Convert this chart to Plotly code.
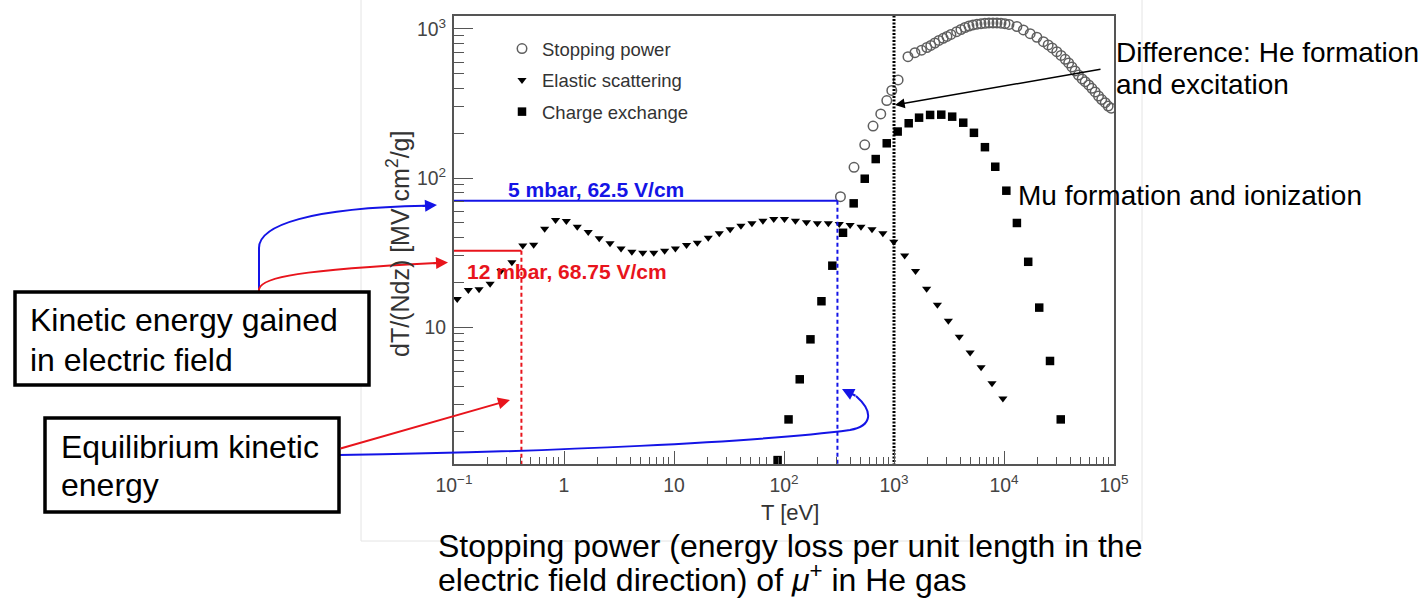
import plotly.graph_objects as go

# ---- data: energy-loss components of mu+ in He gas --------------------------
# Elastic scattering (triangles)
elastic_T = [0.107, 0.135, 0.169, 0.213, 0.267, 0.336, 0.422, 0.530, 0.667, 0.838,
             1.05, 1.32, 1.66, 2.09, 2.62, 3.30, 4.14, 5.20, 6.55, 8.22,
             10.3, 13.0, 16.3, 20.5, 25.8, 32.4, 40.6, 51.1, 64.3, 80.7,
             101, 127, 160, 201, 253, 318, 399, 501, 631, 792,
             995, 1250, 1570, 1980, 2480, 3120, 3920, 4920, 6190, 7780, 9770]
elastic_V = [15.4, 17.7, 17.9, 19.5, 23.8, 27.2, 35.3, 35.6, 45.7, 52.2,
             51.4, 47.1, 43.4, 39.4, 36.5, 33.7, 32.0, 31.5, 31.5, 32.5,
             33.7, 35.5, 36.8, 39.7, 42.6, 45.3, 47.9, 49.7, 51.7, 53.1,
             53.1, 51.7, 50.4, 49.7, 49.7, 49.1, 48.4, 47.1, 45.3, 42.6,
             37.4, 30.2, 23.8, 18.1, 14.1, 11.0, 8.61, 6.76, 5.37, 4.19, 3.32]

# Charge exchange (squares)
charge_T = [87.5, 110, 139, 174, 219, 275, 344, 430, 542, 682, 859, 1080, 1360, 1690,
            2130, 2690, 3380, 4260, 5330, 6710, 8330, 10500, 13100, 16600, 20900,
            26200, 32800]
charge_V = [1.28, 2.40, 4.46, 8.27, 14.9, 25.8, 42.9, 67.6, 98.9, 134, 171, 205, 233, 254,
            265, 266, 258, 235, 201, 161, 119, 82.2, 49.9, 27.4, 13.5, 5.92, 2.40]

# Total stopping power (open circles)
stop_T = [326, 433, 542, 645, 758, 860, 955, 1090,
          1340, 1550, 1780, 1990, 2160, 2350, 2560, 2800, 3030, 3290,
          3710, 4060, 4420, 4800, 5220, 5680, 6180, 6710, 7300, 7940,
          8630, 9390, 10200, 11100, 13100, 15000, 17300, 19900, 22800, 25200,
          27400, 30200, 33000, 36000, 38700, 41400, 44300, 47500, 51300, 54700,
          58900, 62900, 67400, 72300, 77300, 83200, 88500, 94200]
stop_V = [74.9, 118, 167, 223, 269, 331, 387, 455,
          652, 693, 721, 751, 775, 805, 837, 866, 891, 919,
          959, 992, 1023, 1047, 1064, 1077, 1085, 1092, 1097, 1097,
          1097, 1094, 1085, 1072, 1039, 985, 929, 880, 822, 782,
          746, 704, 664, 626, 592, 556, 523, 491, 462, 443,
          421, 400, 378, 355, 336, 320, 304, 294]

# Operating points: (equilibrium T [eV], energy gained [MV cm2/g])
blue_T, blue_V = 306, 70.4      # 5 mbar, 62.5 V/cm
red_T, red_V = 0.41, 32.5       # 12 mbar, 68.75 V/cm
threshold_T = 1000

X_RANGE = [-1, 5]
Y_RANGE = [0.081, 3.087]
T_MIN, V_MIN, V_MAX = 0.1, 1.0, 3000

# ---- page geometry (pixels) -------------------------------------------------
W, H = 1428, 599
L, R, TOP, B = 454, 1114, 16, 464


def px(x):
    return (x - L) / (R - L)


def py(y):
    return (B - y) / (B - TOP)


FONT = "Liberation Sans, Arial, Helvetica, sans-serif"
BLUE = "#1414e6"
RED = "#e8141c"

fig = go.Figure()

fig.add_trace(go.Scatter(
    x=stop_T, y=stop_V, mode="markers", name="Stopping power",
    legendgroup="a",
    marker=dict(symbol="circle-open", size=9.5, color="#5f5f5f", line=dict(width=1.5)),
))
fig.add_trace(go.Scatter(
    x=elastic_T, y=elastic_V, mode="markers", name="Elastic scattering",
    legendgroup="b",
    marker=dict(symbol="triangle-down", size=8, color="black"),
))
fig.add_trace(go.Scatter(
    x=charge_T, y=charge_V, mode="markers", name="Charge exchange",
    legendgroup="c",
    marker=dict(symbol="square", size=8.5, color="black"),
))

# guide lines for the two operating points and the 1 keV marker
fig.add_trace(go.Scatter(x=[T_MIN, blue_T], y=[blue_V, blue_V], mode="lines",
                         line=dict(color=BLUE, width=2), showlegend=False, hoverinfo="skip"))
fig.add_trace(go.Scatter(x=[blue_T, blue_T], y=[blue_V, V_MIN], mode="lines",
                         line=dict(color=BLUE, width=2, dash="4px,3px"), showlegend=False,
                         hoverinfo="skip"))
fig.add_trace(go.Scatter(x=[T_MIN, red_T], y=[red_V, red_V], mode="lines",
                         line=dict(color=RED, width=2), showlegend=False, hoverinfo="skip"))
fig.add_trace(go.Scatter(x=[red_T, red_T], y=[red_V, V_MIN], mode="lines",
                         line=dict(color=RED, width=2, dash="4px,3px"), showlegend=False,
                         hoverinfo="skip"))
fig.add_trace(go.Scatter(x=[threshold_T, threshold_T], y=[V_MIN, V_MAX], mode="lines",
                         line=dict(color="black", width=3, dash="2px,1.5px"), showlegend=False,
                         hoverinfo="skip"))

axis_common = dict(
    type="log", dtick=1, exponentformat="power",
    showline=True, mirror=True, linecolor="#555", linewidth=1.5,
    ticks="inside", tickcolor="#555", tickwidth=1,
    showgrid=False, zeroline=False,
    tickfont=dict(family=FONT, size=15.5, color="#444"),
)
fig.update_xaxes(**axis_common, range=X_RANGE, ticklen=13, ticklabelstandoff=4,
                 minor=dict(ticks="inside", ticklen=7, tickcolor="#555", showgrid=False))
fig.update_yaxes(**axis_common, range=Y_RANGE, ticklen=19, ticklabelstandoff=3,
                 minor=dict(ticks="inside", ticklen=10, tickcolor="#555", showgrid=False))

shapes = []
# faint outline of the inset figure
for (x0, y0, x1, y1) in [(361, 0, 361, 541), (361, 541, 1142, 541), (1142, 0, 1142, 541)]:
    shapes.append(dict(type="line", xref="paper", yref="paper", layer="below",
                       x0=px(x0), y0=py(y0), x1=px(x1), y1=py(y1),
                       line=dict(color="#e4e4e4", width=1)))


def P(x, y):
    return f"{px(x):.5f},{py(y):.5f}"


# curved connectors from the two text boxes
shapes.append(dict(type="path", xref="paper", yref="paper",
                   path=f"M {P(259, 292)} L {P(259, 248)} C {P(259, 225)} {P(310, 208)} {P(425, 205.8)}",
                   line=dict(color=BLUE, width=2)))
shapes.append(dict(type="path", xref="paper", yref="paper",
                   path=f"M {P(259, 292)} L {P(259, 289)} C {P(262, 277)} {P(300, 270)} {P(436, 263)}",
                   line=dict(color=RED, width=2)))
shapes.append(dict(type="path", xref="paper", yref="paper",
                   path=(f"M {P(339, 455)} C {P(550, 452)} {P(760, 442)} {P(850, 430)} "
                         f"C {P(872, 426)} {P(874, 412)} {P(856, 396)}"),
                   line=dict(color=BLUE, width=2)))

# text boxes
shapes.append(dict(type="rect", xref="paper", yref="paper",
                   x0=px(15), x1=px(369), y0=py(292), y1=py(385),
                   line=dict(color="black", width=3.5), fillcolor="white"))
shapes.append(dict(type="rect", xref="paper", yref="paper",
                   x0=px(45), x1=px(339), y0=py(418), y1=py(512),
                   line=dict(color="black", width=3.5), fillcolor="white"))

annotations = []


def text(x, y, s, size, color="black", anchor="left", bold=False, angle=0):
    if bold:
        s = f"<b>{s}</b>"
    annotations.append(dict(xref="paper", yref="paper", x=px(x), y=py(y), text=s,
                            showarrow=False, xanchor=anchor, yanchor="middle",
                            textangle=angle, borderpad=0,
                            font=dict(family=FONT, size=size, color=color)))


def arrow(tip_x, tip_y, tail_x, tail_y, color, width=2, size=1.2):
    annotations.append(dict(xref="paper", yref="paper", x=px(tip_x), y=py(tip_y),
                            ax=tail_x - tip_x, ay=tail_y - tip_y, axref="pixel", ayref="pixel",
                            text="", showarrow=True, arrowhead=2, arrowsize=size,
                            arrowwidth=width, arrowcolor=color, standoff=0, startstandoff=0))


text(507, 190, "5 mbar, 62.5 V/cm", 21, BLUE, bold=True)
text(466, 271, "12 mbar, 68.75 V/cm", 21, RED, bold=True)

text(1115, 53, "Difference: He formation", 28)
text(1115, 85, "and excitation", 28)
text(1017, 195, "Mu formation and ionization", 28)

text(437, 546, "Stopping power (energy loss per unit length in the", 32)
text(437, 578, "electric field direction) of <i>μ</i><sup>+</sup> in He gas", 32)

text(29, 320, "Kinetic energy gained", 32)
text(29, 360, "in electric field", 32)
text(60, 447, "Equilibrium kinetic", 32)
text(60, 485, "energy", 32)

text(790, 512, "T [eV]", 22, "#333", anchor="center")
text(398, 244, "dT/(Ndz) [MV cm<sup>2</sup>/g]", 25, "#333", anchor="center", angle=-90)

# arrowheads
arrow(895, 105, 1102, 69, "black", width=1.5, size=1.3)
arrow(437, 205, 421, 206, BLUE)
arrow(448, 262.5, 432, 263.3, RED)
arrow(510, 400, 339, 449, RED)
arrow(842, 389, 857, 396.5, BLUE)

fig.update_layout(
    width=W, height=H,
    margin=dict(l=L, r=W - R, t=TOP, b=H - B, pad=0),
    paper_bgcolor="white", plot_bgcolor="white",
    font=dict(family=FONT, color="#333"),
    showlegend=True,
    legend=dict(x=px(502), y=py(30), xanchor="left", yanchor="top",
                bgcolor="rgba(0,0,0,0)", borderwidth=0,
                font=dict(family=FONT, size=18.5, color="#333"),
                traceorder="grouped", tracegroupgap=4.5),
    shapes=shapes,
    annotations=annotations,
)

fig.write_html("out.html")
